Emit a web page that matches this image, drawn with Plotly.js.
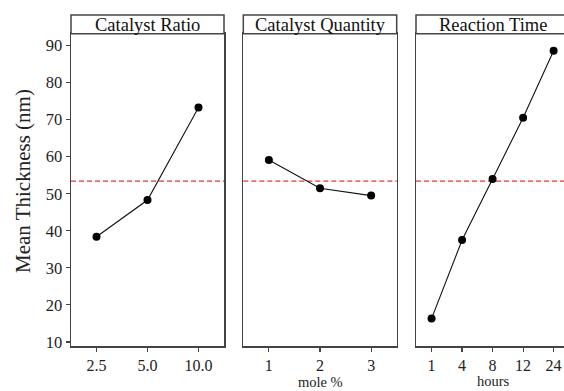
<!DOCTYPE html>
<html>
<head>
<meta charset="utf-8">
<script src="https://cdn.plot.ly/plotly-3.0.1.min.js"></script>
<style>html,body{margin:0;padding:0;background:#fff;}#chart{width:564px;height:391px;}</style>
</head>
<body>
<div id="chart"></div>
<script>
// ---- data ----
const panelTitles = ["Catalyst Ratio", "Catalyst Quantity", "Reaction Time"];
const ratioLevels = ["2.5", "5.0", "10.0"];
const ratioMeans = [38.4, 48.3, 73.3];
const quantityLevels = ["1", "2", "3"];
const quantityMeans = [59.1, 51.5, 49.5];
const timeLevels = ["1", "4", "8", "12", "24"];
const timeMeans = [16.3, 37.5, 54.0, 70.5, 88.6];
const grandMean = 53.4;
const yTicks = [10, 20, 30, 40, 50, 60, 70, 80, 90];
const yTitle = "Mean Thickness (nm)";
const xTitles = ["", "mole %", "hours"];

// ---- layout helpers ----
const W = 564, H = 391;
const px = v => v / W;
const py = v => 1 - v / H;
const FONT = "Liberation Serif";
const LINE = "#444";

const panelX = [[71, 224], [243.3, 396.7], [416, 564]];
const plotTop = 33.7, plotBot = 346, stripTop = 15;
const yDom = [py(plotBot), py(plotTop)];

const xCats = [ratioLevels, quantityLevels, timeLevels];
const yVals = [ratioMeans, quantityMeans, timeMeans];
const xRanges = [[-0.5, 2.5], [-0.5, 2.5], [-0.51, 4.34]];

const traces = [];
const layout = {
  width: W, height: H,
  margin: {l: 0, r: 0, t: 0, b: 0},
  paper_bgcolor: "#fff", plot_bgcolor: "#fff",
  showlegend: false,
  font: {family: FONT, color: "#222"},
  shapes: [], annotations: []
};

for (let i = 0; i < 3; i++) {
  const sfx = i === 0 ? "" : String(i + 1);
  traces.push({
    type: "scatter", mode: "lines+markers",
    x: xCats[i], y: yVals[i],
    xaxis: "x" + sfx, yaxis: "y" + sfx,
    line: {color: "#111", width: 1.1},
    marker: {color: "#000", size: 8},
    hoverinfo: "skip", cliponaxis: false
  });
  layout["xaxis" + sfx] = {
    domain: [px(panelX[i][0]), px(panelX[i][1])],
    anchor: "y" + sfx,
    type: "category",
    categoryorder: "array", categoryarray: xCats[i],
    range: xRanges[i],
    showgrid: false, zeroline: false,
    showline: true, mirror: true, linecolor: LINE, linewidth: 1.5,
    ticks: "outside", ticklen: 4, tickcolor: LINE, tickwidth: 1.2,
    tickfont: {family: FONT, size: 16, color: "#222"}
  };
  layout["yaxis" + sfx] = {
    domain: yDom,
    anchor: "x" + sfx,
    range: [8.9, 93.2],
    showgrid: false, zeroline: false,
    showline: true, mirror: i < 2, linecolor: LINE, linewidth: 1.5,
    tickvals: yTicks,
    ticks: i === 0 ? "outside" : "",
    showticklabels: i === 0,
    ticklen: 4, tickcolor: LINE, tickwidth: 1.2,
    tickfont: {family: FONT, size: 16.5, color: "#222"}
  };
  // mean line
  layout.shapes.push({
    type: "line", xref: "x" + sfx + " domain", yref: "y" + sfx,
    x0: 0, x1: 1, y0: grandMean, y1: grandMean,
    line: {color: "#e8343a", width: 1.4, dash: "5px,3px"}, layer: "below"
  });
  // strip box
  layout.shapes.push({
    type: "rect", xref: "paper", yref: "paper",
    x0: px(panelX[i][0]), x1: i === 2 ? 1.02 : px(panelX[i][1]),
    y0: py(plotTop), y1: py(stripTop),
    line: {color: LINE, width: 1.5}, fillcolor: "#fff"
  });
  layout.annotations.push({
    text: panelTitles[i], showarrow: false,
    xref: "paper", yref: "paper",
    x: px((panelX[i][0] + (i === 2 ? 569 : panelX[i][1])) / 2),
    y: py((stripTop + plotTop) / 2 + 0.5),
    xanchor: "center", yanchor: "middle",
    font: {family: FONT, size: 18.5, color: "#111"}
  });
}

layout.annotations.push({
  text: yTitle, showarrow: false, textangle: -90,
  xref: "paper", yref: "paper",
  x: px(23), y: py(181),
  xanchor: "center", yanchor: "middle",
  font: {family: FONT, size: 21, color: "#222"}
});
layout.annotations.push({
  text: xTitles[1], showarrow: false,
  xref: "paper", yref: "paper",
  x: px(320), y: py(381.5), xanchor: "center", yanchor: "middle",
  font: {family: FONT, size: 14.5, color: "#222"}
});
layout.annotations.push({
  text: xTitles[2], showarrow: false,
  xref: "paper", yref: "paper",
  x: px(493), y: py(391), xanchor: "center", yanchor: "bottom",
  font: {family: FONT, size: 14.5, color: "#222"}
});

Plotly.newPlot("chart", traces, layout, {displayModeBar: false, staticPlot: true});
</script>
</body>
</html>
